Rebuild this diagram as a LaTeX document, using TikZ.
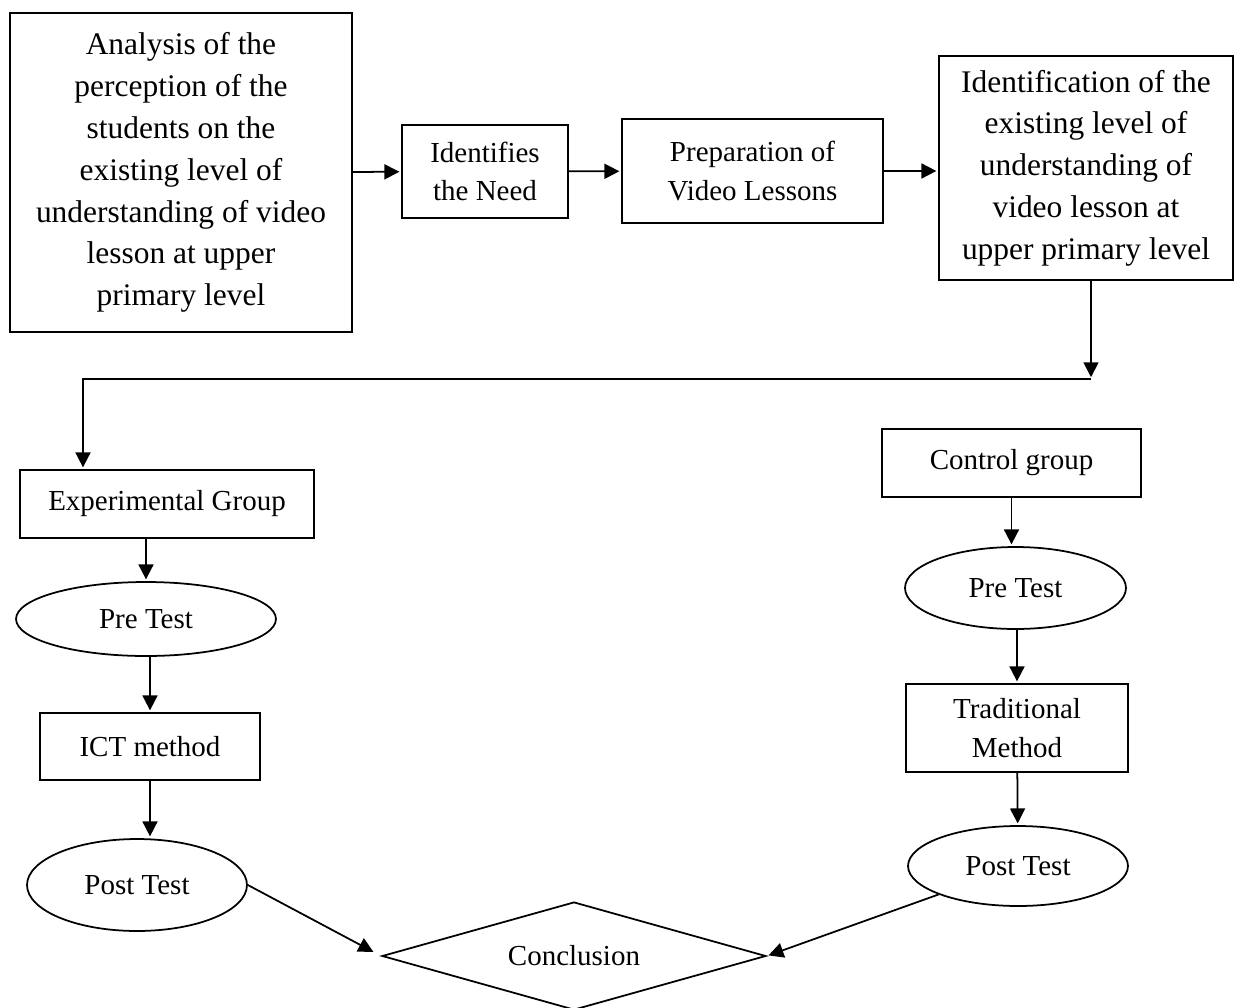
\documentclass[tikz,border=0pt]{standalone}
\usepackage{fontspec}
\setmainfont{Liberation Serif}
\usetikzlibrary{arrows.meta,shapes.geometric}

\begin{document}
\begin{tikzpicture}[->,>={Triangle[length=8.5pt,width=8.5pt]},shorten >=1pt,
                    x=0.02cm,y=-0.02cm,line width=1pt]
  \tikzstyle{every node}=[inner sep=0pt,align=center,
                          font=\fontsize{16.5}{22}\selectfont]
  \tikzstyle{box}=[draw,rectangle]
  \tikzstyle{bigbox}=[box,font=\fontsize{17.9}{23.8}\selectfont]
  \tikzstyle{test}=[draw,ellipse]
  \useasboundingbox (0,0) rectangle (1235,1008);

  % top row
  \node[bigbox,minimum width=6.84cm,minimum height=6.38cm] (analysis) at (181,172.5)
    {Analysis of the\\perception of the\\students on the\\existing level of\\understanding of video\\lesson at upper\\primary level};
  \node[box,minimum width=3.32cm,minimum height=1.86cm] (need) at (485,171.5)
    {Identifies\\the Need};
  \node[box,minimum width=5.22cm,minimum height=2.08cm] (prep) at (752.5,171)
    {Preparation of\\Video Lessons};
  \node[bigbox,minimum width=5.88cm,minimum height=4.48cm] (ident) at (1086,168)
    {Identification of the\\existing level of\\understanding of\\video lesson at\\upper primary level};

  % experimental side
  \node[box,minimum width=5.88cm,minimum height=1.36cm] (expgroup) at (167,504) {Experimental Group};
  \node[test,minimum width=5.2cm,minimum height=1.48cm] (preL) at (146,619) {Pre Test};
  \node[box,minimum width=4.4cm,minimum height=1.34cm] (ict) at (150,746.5) {ICT method};
  \node[test,minimum width=4.4cm,minimum height=1.84cm] (postL) at (137,885) {Post Test};

  % control side
  \node[box,minimum width=5.18cm,minimum height=1.36cm] (control) at (1011.5,463) {Control group};
  \node[test,minimum width=4.42cm,minimum height=1.64cm] (preR) at (1015.5,588) {Pre Test};
  \node[box,minimum width=4.44cm,minimum height=1.76cm] (trad) at (1017,728) {Traditional\\Method};
  \node[test,minimum width=4.4cm,minimum height=1.6cm] (postR) at (1018,866) {Post Test};

  \node[draw,diamond,shape aspect=3.5,minimum width=7.68cm,minimum height=2.16cm]
    (concl) at (574,956) {Conclusion};

  \coordinate (splitR) at (1091,379);
  \coordinate (splitL) at (83,379);

  \draw (analysis) -- (need);
  \draw (need) -- (prep);
  \draw (prep.east) -- (prep.east -| ident.west);
  \draw (ident.south -| splitR) -- (splitR);
  \draw (splitR) -- (splitL) -- (expgroup.north -| splitL);

  \draw (expgroup.south -| preL.north) -- (preL.north);
  \draw (preL.south -| ict.north) -- (ict.north);
  \draw (ict.south) -- (ict.south |- postL.north);
  \draw[shorten >=5pt] (postL.east) -- (concl.west);

  \draw (control) -- (control.south |- preR.north);
  \draw (preR.south -| trad.north) -- (trad.north);
  \draw (trad) -- (postR);
  \draw (postR) -- (concl.east);
\end{tikzpicture}
\end{document}
